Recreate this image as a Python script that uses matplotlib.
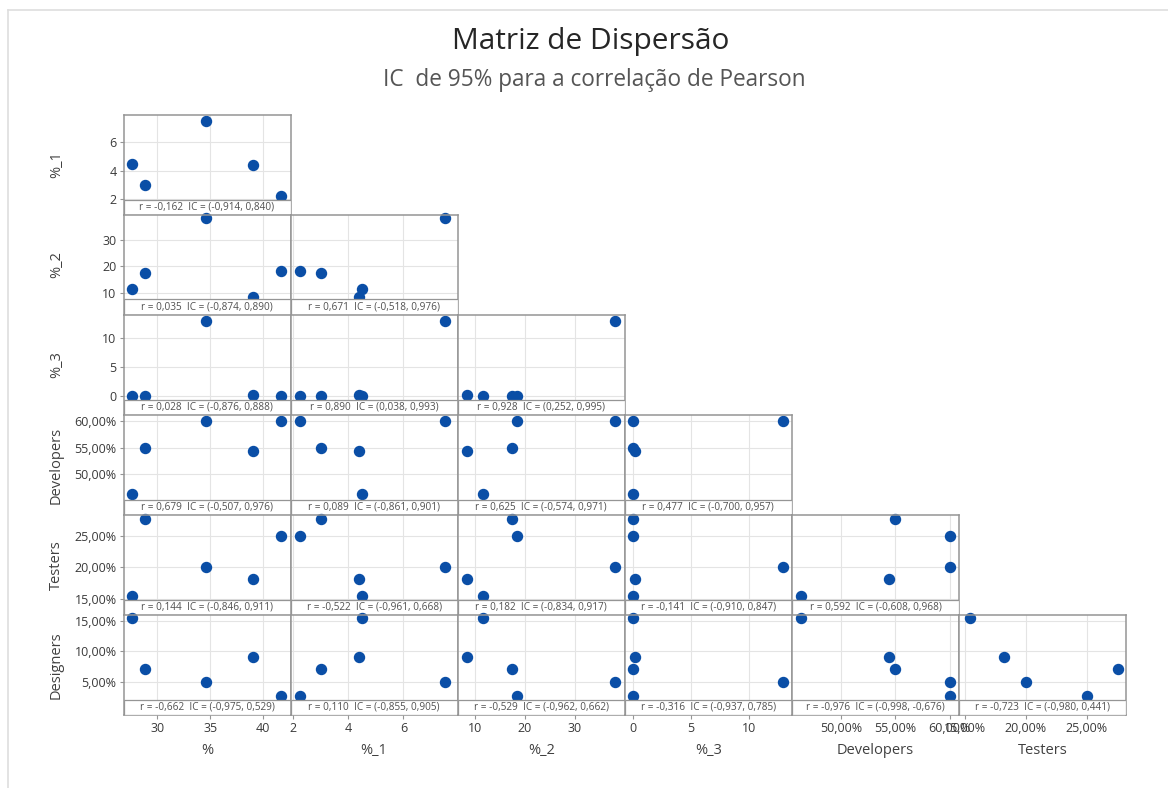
import matplotlib
matplotlib.use('Agg')
import matplotlib.pyplot as plt
from matplotlib.patches import Rectangle
from matplotlib.lines import Line2D
from matplotlib.ticker import FixedLocator, FuncFormatter

plt.rcParams['font.family'] = ['Open Sans', 'DejaVu Sans']

# ---------------- data ----------------
col_vars = ['%', '%_1', '%_2', '%_3', 'Developers', 'Testers']
row_vars = ['%_1', '%_2', '%_3', 'Developers', 'Testers', 'Designers']

pct = [27.6, 28.8, 34.6, 39.0, 41.7]
pct_1 = [4.5, 3.0, 7.5, 4.4, 2.25]
pct_2 = [11.6, 17.5, 38.0, 8.5, 18.4]
pct_3 = [0.0, 0.0, 12.9, 0.15, 0.0]
developers = [46.3, 55.0, 60.0, 54.4, 60.0]   # percent
testers = [15.4, 27.6, 20.0, 18.2, 25.0]      # percent
designers = [15.4, 7.0, 5.0, 9.1, 2.7]        # percent

data = {'%': pct, '%_1': pct_1, '%_2': pct_2, '%_3': pct_3,
        'Developers': developers, 'Testers': testers, 'Designers': designers}

corr_labels = [
    ['r = -0,162  IC = (-0,914, 0,840)'],
    ['r = 0,035  IC = (-0,874, 0,890)', 'r = 0,671  IC = (-0,518, 0,976)'],
    ['r = 0,028  IC = (-0,876, 0,888)', 'r = 0,890  IC = (0,038, 0,993)',
     'r = 0,928  IC = (0,252, 0,995)'],
    ['r = 0,679  IC = (-0,507, 0,976)', 'r = 0,089  IC = (-0,861, 0,901)',
     'r = 0,625  IC = (-0,574, 0,971)', 'r = 0,477  IC = (-0,700, 0,957)'],
    ['r = 0,144  IC = (-0,846, 0,911)', 'r = -0,522  IC = (-0,961, 0,668)',
     'r = 0,182  IC = (-0,834, 0,917)', 'r = -0,141  IC = (-0,910, 0,847)',
     'r = 0,592  IC = (-0,608, 0,968)'],
    ['r = -0,662  IC = (-0,975, 0,529)', 'r = 0,110  IC = (-0,855, 0,905)',
     'r = -0,529  IC = (-0,962, 0,662)', 'r = -0,316  IC = (-0,937, 0,785)',
     'r = -0,976  IC = (-0,998, -0,676)', 'r = -0,723  IC = (-0,980, 0,441)'],
]

col_ticks = [[30, 35, 40], [2, 4, 6], [10, 20, 30], [0, 5, 10], [50, 55, 60], [15, 20, 25]]
row_ticks = [[2, 4, 6], [10, 20, 30], [0, 5, 10], [50, 55, 60], [15, 20, 25], [5, 10, 15]]
percent_vars = {'Developers', 'Testers', 'Designers'}

col_lims = [(26.81, 42.59), (1.91, 7.97), (6.56, 40.0), (-0.72, 13.69), (45.5, 60.84), (14.52, 28.23)]
row_lims = [(0.90, 7.92), (1.86, 39.2), (-3.24, 13.91), (42.31, 61.16), (12.47, 28.27), (-0.46, 15.93)]

# ---------------- layout ----------------
W, H = 1168, 788
fig = plt.figure(figsize=(W / 100, H / 100), dpi=100)
fig.patch.set_facecolor('white')

x0, cw = 123.5, 167.1
y0, rh = 115.0, 100.0
strip_px = 15.5

blue = '#0a4ea6'
border = '#959595'
grid = '#e4e4e4'
tick_col = '#3a3a3a'


def fmt_pct(v, pos=None):
    return ('%.2f' % v).replace('.', ',') + '%'


def fmt_num(v, pos=None):
    return '%g' % v


for r, rv in enumerate(row_vars):
    for c in range(r + 1):
        cv = col_vars[c]
        left = (x0 + c * cw) / W
        bottom = 1 - (y0 + (r + 1) * rh) / H
        ax = fig.add_axes([left, bottom, cw / W, rh / H])
        ax.set_xlim(*col_lims[c])
        ax.set_ylim(*row_lims[r])
        ax.xaxis.set_major_locator(FixedLocator(col_ticks[c]))
        ax.yaxis.set_major_locator(FixedLocator(row_ticks[r]))
        ax.grid(True, color=grid, lw=0.8, zorder=0)
        ax.set_axisbelow(True)
        ax.plot(data[cv], data[rv], 'o', color=blue, ms=7.2, mec=blue, zorder=2,
                clip_on=False)
        for s in ax.spines.values():
            s.set_color(border)
            s.set_linewidth(1.1)
        hf = strip_px / rh
        ax.add_patch(Rectangle((0, 0), 1, hf, transform=ax.transAxes,
                               facecolor='white', edgecolor=border, lw=0.9, zorder=3))
        ax.text(0.5, hf / 2, corr_labels[r][c], transform=ax.transAxes,
                ha='center', va='center', fontsize=7.2, color='#505050', zorder=4)
        ax.tick_params(axis='both', length=3, width=0.8, color=border,
                       labelsize=9, labelcolor=tick_col, pad=2)
        if c == 0:
            ax.yaxis.set_major_formatter(FuncFormatter(fmt_pct if rv in percent_vars else fmt_num))
            ax.set_ylabel(rv, fontsize=10.5, color='#404040')
            ax.yaxis.set_label_coords(-(123.5 - 64) / cw, 0.5)
        else:
            ax.tick_params(axis='y', left=False, labelleft=False)
        if r == len(row_vars) - 1:
            ax.xaxis.set_major_formatter(FuncFormatter(fmt_pct if cv in percent_vars else fmt_num))
            ax.set_xlabel(cv, fontsize=10.5, color='#404040', labelpad=6)
        else:
            ax.tick_params(axis='x', bottom=False, labelbottom=False)

# titles
fig.text(591 / W, 1 - 42 / H, 'Matriz de Dispersão', ha='center', va='center',
         fontsize=21.5, color='#262626')
fig.text(594 / W, 1 - 80 / H, 'IC  de 95% para a correlação de Pearson', ha='center',
         va='center', fontsize=16.3, color='#555555')

# frame lines (top and left)
fig.add_artist(Line2D([8 / W, 8 / W], [0, 1 - 10 / H], transform=fig.transFigure,
                      color='#dedede', lw=1.2))
fig.add_artist(Line2D([8 / W, 1], [1 - 10 / H, 1 - 10 / H], transform=fig.transFigure,
                      color='#dedede', lw=1.2))

fig.savefig('out.png', dpi=100, facecolor='white')
